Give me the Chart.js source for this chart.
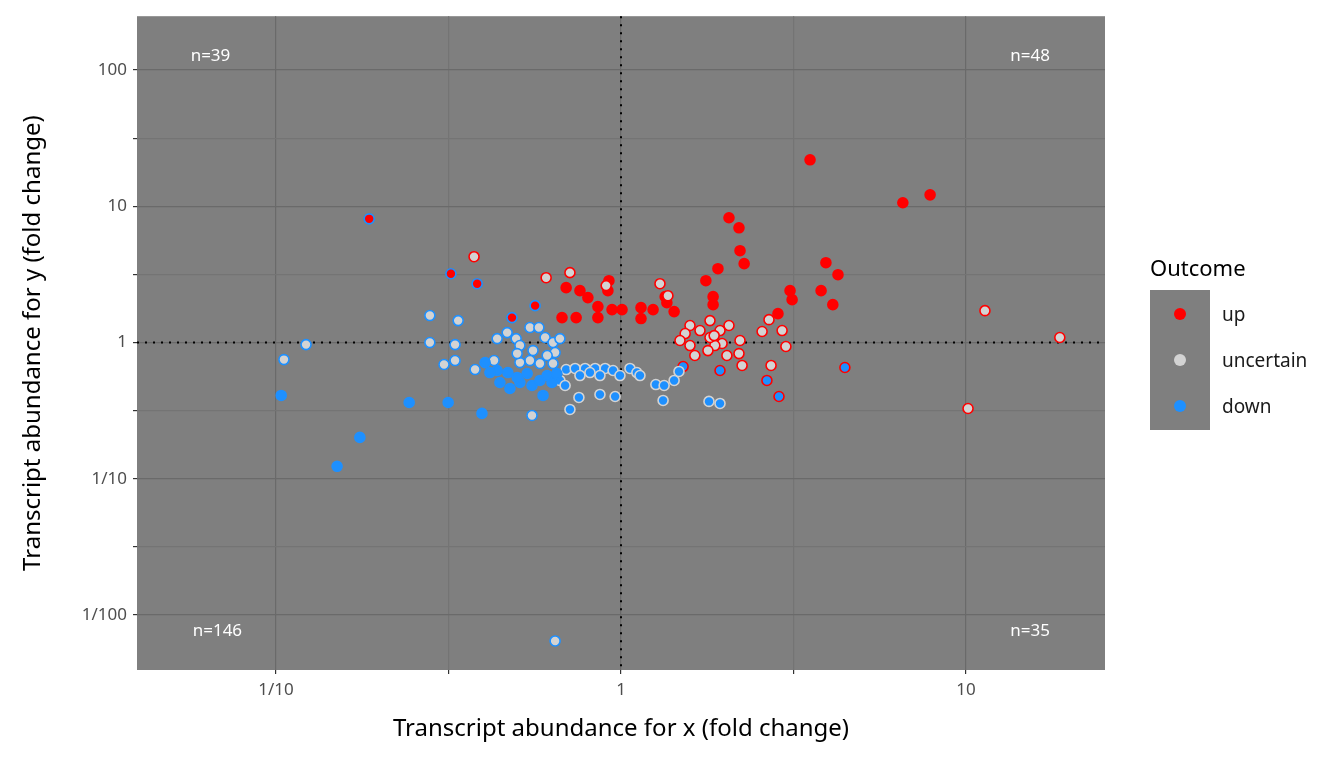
<!DOCTYPE html>
<html><head><meta charset="utf-8">
<script src="https://cdn.jsdelivr.net/npm/chart.js@4"></script>
<style>
body{margin:0;background:#fff;font-family:"Noto Sans",sans-serif;}
#wrap{position:relative;width:1344px;height:768px;}
#legend{position:absolute;left:1150px;top:252px;}
#legend .t{font-size:22px;color:#000;margin-bottom:8px;}
#legend .box{background:#7f7f7f;width:60px;padding:1px 0;}
#legend .row{height:46px;position:relative;}
#legend .dot{position:absolute;left:24px;top:17px;width:12px;height:12px;border-radius:50%;}
#legend .lab{position:absolute;left:72px;top:10px;font-size:19px;color:#1a1a1a;white-space:nowrap;}
</style></head><body>
<div id="wrap"><canvas id="c" width="1344" height="768"></canvas>
<div id="legend"><div class="t">Outcome</div><div class="box">
<div class="row"><div class="dot" style="background:#ff0000"></div><div class="lab">up</div></div>
<div class="row"><div class="dot" style="background:#d3d3d3"></div><div class="lab">uncertain</div></div>
<div class="row"><div class="dot" style="background:#1e90ff"></div><div class="lab">down</div></div>
</div></div></div>
<script>
// log10 fold changes, grouped by (fill outcome / border outcome)
const upUpX=[0.548,0.896,0.817,0.313,0.342,0.345,0.357,0.281,0.246,0.49,0.594,0.629,0.496,0.58,0.614,0.455,0.267,0.267,-0.159,-0.119,-0.096,-0.067,-0.035,-0.038,-0.13,-0.171,-0.026,-0.067,0.003,0.058,0.058,0.093,0.133,0.154,0.128];
const upUpY=[1.341,1.084,1.026,0.916,0.842,0.674,0.579,0.542,0.454,0.381,0.586,0.498,0.315,0.381,0.278,0.212,0.337,0.278,0.403,0.381,0.33,0.264,0.454,0.381,0.183,0.183,0.242,0.183,0.242,0.256,0.176,0.242,0.293,0.227,0.337];
const uncUpX=[-0.426,1.055,1.272,1.006,0.467,0.429,0.409,0.478,0.435,0.287,0.293,0.345,0.342,0.351,0.272,0.229,0.2,0.186,0.2,0.214,0.171,0.258,0.252,0.113,0.136,-0.148,-0.217,-0.043,0.27,0.307,0.313,0.258];
const uncUpY=[0.63,0.234,0.037,-0.484,0.088,0.168,0.081,-0.029,-0.168,0.088,-0.007,0.015,-0.081,-0.168,-0.022,0.088,0.125,0.066,-0.022,-0.095,0.015,0.037,-0.059,0.432,0.344,0.513,0.476,0.418,0.051,-0.095,0.125,0.161];
const upDownX=[-0.730,-0.493,-0.417,-0.316,-0.249];
const upDownY=[0.908,0.505,0.432,0.183,0.271];
const downUpX=[0.287,0.423,0.458,0.649,0.18];
const downUpY=[-0.205,-0.278,-0.396,-0.183,-0.176];
const uncDownX=[-0.554,-0.472,-0.554,-0.481,-0.513,-0.481,-0.423,-0.368,-0.359,-0.33,-0.304,-0.264,-0.238,-0.293,-0.255,-0.22,-0.197,-0.191,-0.214,-0.264,-0.293,-0.301,-0.235,-0.197,-0.177,-0.258,-0.977,-0.913,-0.191];
const uncDownY=[0.198,0.161,0,-0.015,-0.161,-0.132,-0.198,-0.132,0.029,0.073,0.029,0.11,0.11,-0.022,-0.059,0.037,0,-0.073,-0.095,-0.132,-0.147,-0.081,-0.154,-0.154,0.029,-0.535,-0.125,-0.015,-2.19];
const downUncX=[-0.159,-0.133,-0.104,-0.075,-0.046,-0.023,-0.003,0.026,0.046,-0.177,-0.162,-0.119,-0.09,-0.061,0.055,0.101,0.125,0.154,0.168,0.122,0.255,0.287,-0.122,-0.061,-0.017,-0.148];
const downUncY=[-0.198,-0.19,-0.19,-0.19,-0.19,-0.205,-0.242,-0.19,-0.22,-0.278,-0.315,-0.242,-0.22,-0.242,-0.242,-0.308,-0.315,-0.278,-0.212,-0.425,-0.432,-0.447,-0.403,-0.381,-0.396,-0.491];
const downDownX=[-0.985,-0.823,-0.757,-0.614,-0.501,-0.403,-0.226,-0.351,-0.322,-0.293,-0.258,-0.235,-0.2,-0.359,-0.328,-0.272,-0.214,-0.186,-0.301,-0.394,-0.38];
const downDownY=[-0.388,-0.908,-0.696,-0.44,-0.44,-0.52,-0.388,-0.293,-0.337,-0.293,-0.315,-0.278,-0.293,-0.205,-0.22,-0.227,-0.242,-0.227,-0.256,-0.147,-0.22];
const quadLabels=[{t:"n=39",x:-1.19,y:2.10},{t:"n=48",x:1.186,y:2.10},{t:"n=146",x:-1.17,y:-2.117},{t:"n=35",x:1.186,y:-2.117}];
const tickLabels={"-2":"1/100","-1":"1/10","0":"1","1":"10","2":"100"};
const RED="#ff0000",GRAY="#d3d3d3",BLUE="#1e90ff";
function ds(xs,ys,fill,border){return{data:xs.map((x,i)=>({x,y:ys[i]})),backgroundColor:fill,borderColor:border,borderWidth:1.6,pointRadius:5,pointHoverRadius:5};}
const grid={color:c=>Number.isInteger(c.tick.value)?"#6a6a6a":"#747474",lineWidth:1.2,drawTicks:true,tickLength:4,tickColor:"#333"};
function halfTicks(min,max){return a=>{a.ticks=[];for(let v=Math.ceil(min*2)/2;v<=max;v+=0.5)a.ticks.push({value:v});};}
const plug={id:"extra",
beforeDraw(ch){const a=ch.chartArea,c=ch.ctx;c.fillStyle="#7f7f7f";c.fillRect(a.left,a.top,a.right-a.left,a.bottom-a.top);},
beforeDatasetsDraw(ch){const a=ch.chartArea,c=ch.ctx,sx=ch.scales.x,sy=ch.scales.y;c.save();c.strokeStyle="#000";c.lineWidth=2;c.setLineDash([2,6]);
c.beginPath();const x0=sx.getPixelForValue(0);c.moveTo(x0,a.top);c.lineTo(x0,a.bottom);const y0=sy.getPixelForValue(0);c.moveTo(a.left,y0);c.lineTo(a.right,y0);c.stroke();c.restore();},
afterDraw(ch){const c=ch.ctx,sx=ch.scales.x,sy=ch.scales.y,a=ch.chartArea;c.save();c.fillStyle="#fff";c.font="17px 'Noto Sans'";c.textAlign="center";c.textBaseline="middle";
quadLabels.forEach(q=>c.fillText(q.t,sx.getPixelForValue(q.x),sy.getPixelForValue(q.y)));
c.fillStyle="#000";c.font="24px 'Noto Sans'";c.fillText("Transcript abundance for x (fold change)",(a.left+a.right)/2,729);
c.translate(33,(a.top+a.bottom)/2);c.rotate(-Math.PI/2);c.fillText("Transcript abundance for y (fold change)",0,0);c.restore();}};
new Chart(document.getElementById("c"),{type:"scatter",
data:{datasets:[ds(downDownX,downDownY,BLUE,BLUE),ds(downUncX,downUncY,BLUE,GRAY),ds(uncDownX,uncDownY,GRAY,BLUE),ds(upDownX,upDownY,RED,BLUE),ds(downUpX,downUpY,BLUE,RED),ds(uncUpX,uncUpY,GRAY,RED),ds(upUpX,upUpY,RED,RED)]},
options:{responsive:false,animation:false,events:[],layout:{padding:{top:15,right:239,left:0,bottom:0}},
plugins:{legend:{display:false},tooltip:{enabled:false}},
scales:{
x:{type:"linear",min:-1.403,max:1.403,border:{display:false},grid,afterBuildTicks:halfTicks(-1.403,1.403),afterFit:s=>{s.height=98;},
ticks:{autoSkip:false,maxRotation:0,color:"#4d4d4d",font:{size:17,family:"Noto Sans"},padding:6,callback:v=>tickLabels[String(v)]||""}},
y:{type:"linear",min:-2.403,max:2.395,border:{display:false},grid,afterBuildTicks:halfTicks(-2.403,2.395),afterFit:s=>{s.width=137;},
ticks:{autoSkip:false,color:"#4d4d4d",font:{size:17,family:"Noto Sans"},padding:6,callback:v=>tickLabels[String(v)]||""}}}},
plugins:[plug]});
</script></body></html>
